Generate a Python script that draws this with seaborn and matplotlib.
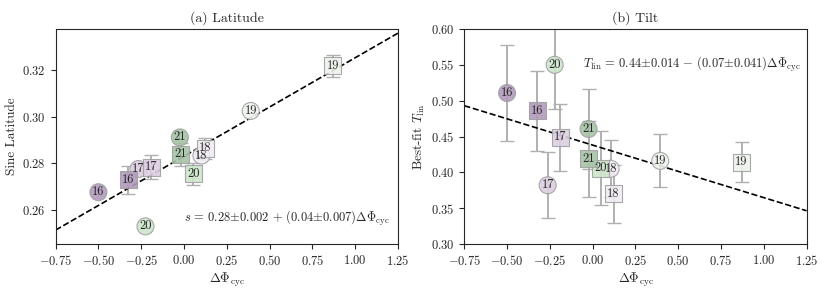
import numpy as np
import pandas as pd
import matplotlib
matplotlib.use("Agg")
import matplotlib.pyplot as plt
import seaborn as sns

# ---------------- data ----------------
cycles_c = [16, 17, 18, 19, 20, 21]          # circles
cycles_s = [16, 17, 18, 19, 20, 21]          # squares

# Panel (a) latitude
lat_x_c = [-0.50, -0.266, 0.102, 0.39, -0.225, -0.024]
lat_y_c = [0.2675, 0.2775, 0.2833, 0.3025, 0.2528, 0.2911]
lat_x_s = [-0.326, -0.19, 0.125, 0.87, 0.055, -0.02]
lat_y_s = [0.2728, 0.2782, 0.2864, 0.3220, 0.2754, 0.2838]
lat_e_s = [0.0060, 0.0052, 0.0045, 0.0048, 0.0046, 0.0050]

# Panel (b) tilt
tilt_x_c = [-0.50, -0.263, 0.105, 0.395, -0.222, -0.024]
tilt_y_c = [0.5107, 0.382, 0.405, 0.416, 0.550, 0.4605]
tilt_e_c = [0.0675, 0.046, 0.040, 0.037, 0.061, 0.056]
tilt_x_s = [-0.324, -0.19, 0.122, 0.87, 0.048, -0.022]
tilt_y_s = [0.486, 0.449, 0.370, 0.414, 0.406, 0.419]
tilt_e_s = [0.056, 0.047, 0.040, 0.028, 0.051, 0.053]

# fits
fit_lat = (0.283, 0.0424)
fit_tilt = (0.438, -0.0733)
fit_xrange = [-0.75, 1.25]

xticks = [-0.75, -0.50, -0.25, 0.00, 0.25, 0.50, 0.75, 1.00, 1.25]
lat_yticks = [0.26, 0.28, 0.30, 0.32]
tilt_yticks = [0.30, 0.35, 0.40, 0.45, 0.50, 0.55, 0.60]

palette = {16: "#b29bbd", 17: "#dccfe2", 18: "#f1ebf3",
           19: "#eef2ec", 20: "#cfe6cc", 21: "#a6c4a7"}

# ---------------- style ----------------
sns.set_style("ticks")
plt.rcParams.update({
    "font.family": ["cmr10", "DejaVu Serif"],
    "mathtext.fontset": "cm",
    "axes.formatter.use_mathtext": True,
    "axes.unicode_minus": True,
    "font.size": 9,
    "axes.linewidth": 0.8,
    "xtick.direction": "out",
    "ytick.direction": "out",
    "xtick.major.size": 3.5,
    "ytick.major.size": 3.5,
    "xtick.labelsize": 9,
    "ytick.labelsize": 9,
})

fig = plt.figure(figsize=(8.3, 2.91), dpi=100)
axL = fig.add_axes([0.067, 0.1615, 0.4124, 0.7388])
axR = fig.add_axes([0.5594, 0.1615, 0.4124, 0.7388])

ERR_KW = dict(fmt="none", ecolor="#b0b0b0", elinewidth=1.4, capsize=4.8,
              capthick=1.0, zorder=1)


def draw(ax, xc, yc, ec, xs, ys, es, fit, ylim, yticks, title, ylabel, note, note_xy):
    if ec is not None:
        ax.errorbar(xc, yc, yerr=ec, **ERR_KW)
    ax.errorbar(xs, ys, yerr=es, **ERR_KW)
    df = pd.DataFrame({
        "x": list(xc) + list(xs),
        "y": list(yc) + list(ys),
        "cycle": list(cycles_c) + list(cycles_s),
        "kind": ["c"] * len(xc) + ["s"] * len(xs),
    })
    sns.scatterplot(data=df, x="x", y="y", hue="cycle", palette=palette,
                    style="kind", markers={"c": "o", "s": "s"},
                    s=150, edgecolor="#a0a0a0", linewidth=0.8, alpha=0.9,
                    legend=False, ax=ax, zorder=3)
    for x, y, c in zip(df["x"], df["y"], df["cycle"]):
        ax.text(x, y, str(c), ha="center", va="center", fontsize=9, zorder=4)
    fx = np.array(fit_xrange)
    ax.plot(fx, fit[0] + fit[1] * fx, ls="--", color="black", lw=1.2, zorder=2)
    ax.set_xlim(-0.75, 1.25)
    ax.set_ylim(*ylim)
    ax.set_xticks(xticks)
    ax.set_xticklabels([f"${v:.2f}$" for v in xticks])
    ax.set_yticks(yticks)
    ax.set_yticklabels([f"${v:.2f}$" for v in yticks])
    ax.set_title(title, fontsize=10, pad=5)
    ax.set_xlabel(r"$\Delta\Phi_{\rm cyc}$", fontsize=9.5, labelpad=2)
    ax.set_ylabel(ylabel, fontsize=9.5, labelpad=3)
    ax.text(note_xy[0], note_xy[1], note, fontsize=9, ha="left", va="center")


draw(axL, lat_x_c, lat_y_c, None, lat_x_s, lat_y_s, lat_e_s, fit_lat,
     (0.2452, 0.3378), lat_yticks, "(a) Latitude", "Sine Latitude",
     r"$s\,=\,0.28{\pm}0.002\,+\,(0.04{\pm}0.007)\Delta\Phi_{\rm cyc}$",
     (0.0, 0.2563))
draw(axR, tilt_x_c, tilt_y_c, tilt_e_c, tilt_x_s, tilt_y_s, tilt_e_s, fit_tilt,
     (0.30, 0.60), tilt_yticks, "(b) Tilt", r"Best-fit $T_{\rm lin}$",
     r"$T_{\rm lin}\,=\,0.44{\pm}0.014\,-\,(0.07{\pm}0.041)\Delta\Phi_{\rm cyc}$",
     (-0.055, 0.550))

fig.savefig("out.png", dpi=100)
